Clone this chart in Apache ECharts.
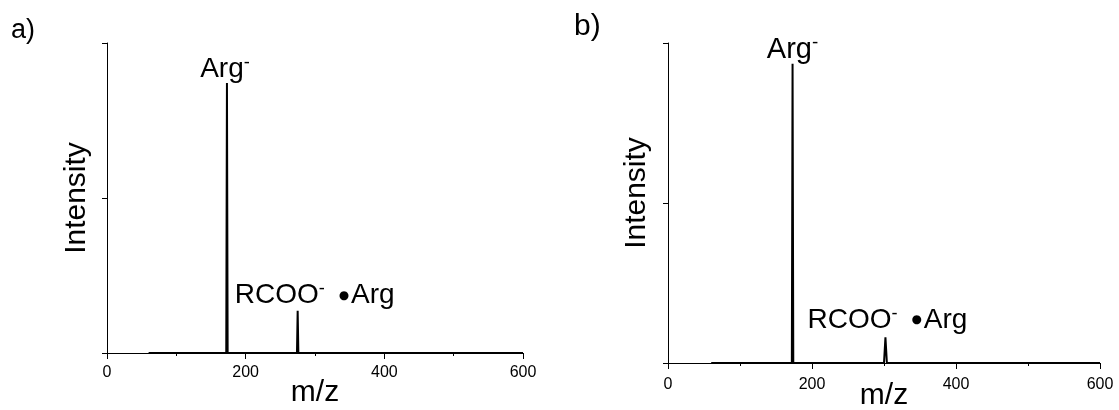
<!DOCTYPE html>
<html>
<head>
<meta charset="utf-8">
<script src="https://cdn.jsdelivr.net/npm/echarts@6/dist/echarts.min.js"></script>
<style>
  html, body { margin: 0; padding: 0; background: #fff; }
  #chart { width: 1119px; height: 410px; }
</style>
</head>
<body>
<div id="chart"></div>
<script>
// spectrum a)
const mzA = [60, 172, 173, 174, 274, 275, 276, 600]
const intA = [0, 0, 0.871, 0, 0, 0.136, 0, 0]
// spectrum b)
const mzB = [60, 172, 173, 174, 300, 302, 304, 600]
const intB = [0, 0, 0.935, 0, 0, 0.08, 0, 0]

const xTicks = [0, 200, 400, 600]
const yTicks = [0, 0.5, 1]
const panelTitles = ['a)', 'b)']
const peakLabels = ['Arg', 'RCOO']

const font = '"Liberation Sans", Arial, sans-serif'
const black = '#000'

const toPoints = (xs, ys) => xs.map((x, i) => [x, ys[i]])

const xAxisFor = (gridIndex, labelMargin, nameGap) => ({
  gridIndex,
  type: 'value',
  min: xTicks[0],
  max: xTicks[xTicks.length - 1],
  interval: xTicks[1] - xTicks[0],
  name: 'm/z',
  nameLocation: 'middle',
  nameGap,
  nameMoveOverlap: false,
  nameTextStyle: { color: black, fontSize: 30, fontFamily: font },
  axisLine: { lineStyle: { color: black, width: 1 } },
  axisTick: { length: 6, lineStyle: { color: black } },
  minorTick: { show: true, splitNumber: 2, length: 3, lineStyle: { color: black } },
  axisLabel: { color: black, fontSize: 16, fontFamily: font, margin: labelMargin },
  splitLine: { show: false },
})

const yAxisFor = (gridIndex, nameGap, namePad) => ({
  gridIndex,
  type: 'value',
  min: yTicks[0],
  max: yTicks[yTicks.length - 1],
  interval: yTicks[1] - yTicks[0],
  name: 'Intensity',
  nameLocation: 'middle',
  nameGap,
  nameMoveOverlap: false,
  nameTextStyle: { color: black, fontSize: 30, fontFamily: font, padding: namePad },
  axisLine: { show: true, lineStyle: { color: black, width: 1 } },
  axisTick: { show: true, length: 5, lineStyle: { color: black } },
  axisLabel: { show: false },
  splitLine: { show: false },
})

const labelRich = (size) => ({
  m: { fontSize: size, fontFamily: font, color: black },
  s: { fontSize: size * 0.65, fontFamily: font, color: black, verticalAlign: 'top', padding: [0, 0, size * 0.45, 0] },
  b: { fontSize: size * 0.42, fontFamily: '"DejaVu Sans", sans-serif', color: black, padding: [0, 2, 0, 14] },
})

const peakMark = (coord, text, size, offset) => ({
  coord,
  symbol: 'circle',
  symbolSize: 0,
  label: {
    show: true,
    position: 'top',
    distance: 0,
    offset,
    formatter: text,
    rich: labelRich(size),
  },
})

const spectrum = (index, xs, ys, marks) => ({
  type: 'line',
  xAxisIndex: index,
  yAxisIndex: index,
  data: toPoints(xs, ys),
  showSymbol: false,
  clip: false,
  silent: true,
  lineStyle: { color: black, width: 2 },
  markPoint: { silent: true, animation: false, data: marks },
})

const chart = echarts.init(document.getElementById('chart'), null, { renderer: 'canvas' })

chart.setOption({
  animation: false,
  backgroundColor: '#fff',
  textStyle: { fontFamily: font },
  grid: [
    { left: 107, top: 43, width: 416, height: 310, outerBoundsMode: 'none', containLabel: false },
    { left: 668, top: 43, width: 432, height: 320, outerBoundsMode: 'none', containLabel: false },
  ],
  xAxis: [xAxisFor(0, 12, 25), xAxisFor(1, 14, 18)],
  yAxis: [yAxisFor(0, 15, 0), yAxisFor(1, 16, [0, 0, 0, 20])],
  series: [
    spectrum(0, mzA, intA, [
      peakMark([mzA[2], intA[2]], `{m|${peakLabels[0]}}{s|-}`, 28, [-2, 2]),
      peakMark([mzA[5], intA[5]], `{m|${peakLabels[1]}}{s|-}{b|●}{m|${peakLabels[0]}}`, 28, [17, 0]),
    ]),
    spectrum(1, mzB, intB, [
      peakMark([mzB[2], intB[2]], `{m|${peakLabels[0]}}{s|-}`, 29, [0, 2]),
      peakMark([mzB[5], intB[5]], `{m|${peakLabels[1]}}{s|-}{b|●}{m|${peakLabels[0]}}`, 28, [2, -2]),
    ]),
  ],
  graphic: [
    { type: 'text', left: 11, top: 17, style: { text: panelTitles[0], fontSize: 27, fontFamily: font, fill: black } },
    { type: 'text', left: 574, top: 12, style: { text: panelTitles[1], fontSize: 30, fontFamily: font, fill: black } },
  ],
})
</script>
</body>
</html>
